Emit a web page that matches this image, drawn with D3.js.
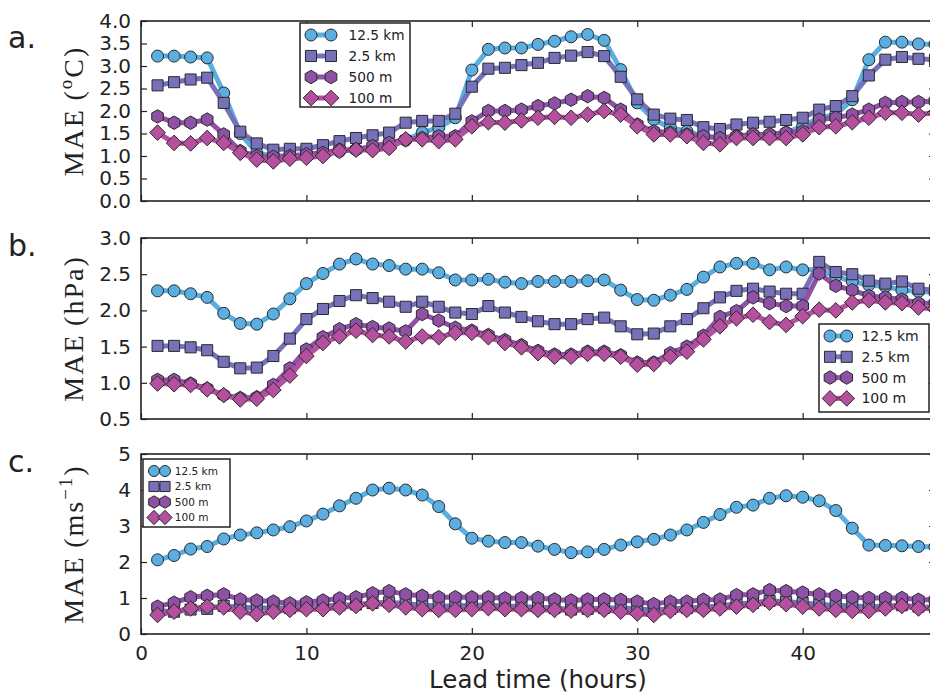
<!DOCTYPE html>
<html>
<head>
<meta charset="utf-8">
<script src="https://cdn.jsdelivr.net/npm/d3@7"></script>
<style>
  body { margin: 0; background: #fff; }
  svg { display: block; }
  .tick text { font-family: "DejaVu Sans", sans-serif; font-size: 20px; fill: #222; }
  .tick line { stroke: #222; stroke-width: 1.2; }
</style>
</head>
<body>
<svg id="chart"></svg>
<script>
// lead time (hours)
const hours = [1,2,3,4,5,6,7,8,9,10,11,12,13,14,15,16,17,18,19,20,21,22,23,24,
  25,26,27,28,29,30,31,32,33,34,35,36,37,38,39,40,41,42,43,44,45,46,47,48];

const seriesNames = ["12.5 km", "2.5 km", "500 m", "100 m"];

// a. temperature MAE (oC)
const temp125 = [3.22,3.22,3.20,3.18,2.40,1.50,1.07,1.00,1.00,1.00,1.05,1.10,1.15,1.15,1.20,1.35,1.52,1.63,1.85,2.91,3.37,3.40,3.40,3.48,3.55,3.65,3.70,3.57,2.92,2.18,1.81,1.63,1.55,1.44,1.40,1.44,1.48,1.48,1.52,1.66,1.85,1.92,2.25,3.14,3.53,3.53,3.49,3.48];
const temp25 = [2.57,2.64,2.70,2.74,2.18,1.54,1.28,1.14,1.16,1.16,1.24,1.33,1.40,1.46,1.52,1.74,1.78,1.78,1.94,2.54,2.94,2.96,3.02,3.07,3.18,3.23,3.31,3.22,2.76,2.26,1.92,1.83,1.80,1.64,1.60,1.70,1.74,1.76,1.80,1.85,2.03,2.11,2.33,2.79,3.14,3.20,3.16,3.14];
const temp500 = [1.88,1.74,1.74,1.81,1.48,1.11,1.00,0.98,1.00,1.04,1.07,1.14,1.14,1.22,1.29,1.37,1.40,1.44,1.44,1.77,2.00,2.00,2.03,2.11,2.17,2.25,2.33,2.29,2.03,1.70,1.55,1.52,1.48,1.44,1.40,1.44,1.48,1.48,1.52,1.55,1.81,1.85,1.92,2.03,2.18,2.20,2.20,2.22];
const temp100 = [1.52,1.29,1.28,1.40,1.29,1.07,0.92,0.88,0.94,0.96,1.00,1.11,1.14,1.13,1.18,1.37,1.37,1.33,1.37,1.66,1.75,1.74,1.79,1.85,1.87,1.85,1.92,2.00,1.92,1.66,1.48,1.48,1.44,1.29,1.26,1.40,1.40,1.40,1.40,1.48,1.64,1.66,1.75,1.85,1.96,1.96,1.92,1.96];

// b. pressure MAE (hPa)
const pres125 = [2.27,2.27,2.23,2.18,1.96,1.82,1.81,1.95,2.16,2.37,2.51,2.64,2.71,2.64,2.62,2.57,2.57,2.52,2.42,2.42,2.43,2.39,2.37,2.40,2.40,2.40,2.41,2.42,2.28,2.15,2.14,2.21,2.29,2.46,2.60,2.65,2.65,2.56,2.60,2.56,2.56,2.47,2.40,2.35,2.33,2.28,2.26,2.25];
const pres25 = [1.51,1.51,1.49,1.45,1.29,1.20,1.21,1.37,1.61,1.88,2.02,2.13,2.21,2.17,2.12,2.05,2.12,2.05,1.97,1.95,2.06,1.97,1.91,1.85,1.81,1.81,1.88,1.90,1.78,1.67,1.68,1.78,1.88,2.03,2.18,2.27,2.30,2.26,2.23,2.23,2.67,2.53,2.50,2.41,2.37,2.40,2.30,2.28];
const pres500 = [1.04,1.04,0.99,0.92,0.83,0.79,0.80,0.97,1.20,1.46,1.63,1.74,1.81,1.77,1.75,1.71,1.95,1.86,1.76,1.72,1.66,1.59,1.52,1.44,1.39,1.39,1.43,1.43,1.38,1.28,1.28,1.41,1.50,1.65,1.91,1.99,2.18,2.10,2.06,2.06,2.51,2.34,2.28,2.20,2.18,2.15,2.10,2.10];
const pres100 = [0.99,0.98,0.97,0.91,0.83,0.77,0.78,0.90,1.10,1.37,1.55,1.64,1.72,1.66,1.64,1.57,1.64,1.63,1.69,1.69,1.63,1.55,1.49,1.41,1.36,1.36,1.40,1.40,1.36,1.25,1.26,1.36,1.43,1.60,1.78,1.89,1.94,1.84,1.80,1.92,2.01,2.00,2.11,2.14,2.11,2.10,2.04,2.02];

// c. wind MAE (m/s)
const wind125 = [2.06,2.18,2.36,2.43,2.64,2.75,2.81,2.89,2.98,3.14,3.33,3.56,3.77,4.00,4.05,4.00,3.86,3.54,3.06,2.66,2.58,2.54,2.54,2.44,2.35,2.26,2.28,2.35,2.47,2.56,2.63,2.75,2.89,3.10,3.32,3.52,3.58,3.77,3.84,3.80,3.70,3.43,2.94,2.47,2.46,2.45,2.43,2.42];
const wind25 = [0.65,0.62,0.68,0.70,0.78,0.75,0.72,0.72,0.72,0.76,0.78,0.80,0.82,0.86,0.88,0.84,0.80,0.78,0.78,0.80,0.80,0.78,0.76,0.74,0.72,0.68,0.70,0.72,0.72,0.70,0.66,0.70,0.72,0.74,0.78,0.84,0.86,0.92,0.90,0.86,0.82,0.80,0.78,0.76,0.78,0.80,0.76,0.74];
const wind500 = [0.76,0.87,1.02,1.06,1.10,0.96,0.93,0.90,0.85,0.88,0.93,0.99,1.02,1.13,1.19,1.10,1.06,1.02,1.02,1.02,1.02,0.99,1.00,1.00,0.96,0.93,0.96,0.96,0.95,0.90,0.83,0.90,0.90,0.95,0.96,1.08,1.10,1.22,1.19,1.15,1.10,1.06,1.02,1.00,1.00,1.00,0.95,0.95];
const wind100 = [0.53,0.62,0.71,0.76,0.74,0.62,0.55,0.62,0.67,0.69,0.69,0.74,0.78,0.85,0.81,0.74,0.69,0.67,0.67,0.69,0.72,0.69,0.69,0.67,0.67,0.65,0.67,0.67,0.62,0.57,0.53,0.64,0.67,0.67,0.71,0.76,0.81,0.87,0.83,0.76,0.71,0.67,0.64,0.64,0.71,0.78,0.71,0.71];

const tempTicks = [0,0.5,1,1.5,2,2.5,3,3.5,4];
const presTicks = [0.5,1,1.5,2,2.5,3];
const windTicks = [0,1,2,3,4,5];
const xTicks = [0,10,20,30,40];

const colors = ["#5aaee0", "#7671b9", "#8e51a5", "#b5509f"];
const shapes = ["circle", "square", "hexagon", "diamond"];

const [w, h] = [930, 695];
const svg = d3.select("#chart").attr("width", w).attr("height", h);

const xScale = d3.scaleLinear().domain([0, 48]).range([141, 935]);

// marker paths
function markerPath(shape, s) {
  if (shape === "circle") return d3.symbol(d3.symbolCircle, Math.PI * s * s / 4)();
  if (shape === "square") return d3.symbol(d3.symbolSquare, s * s * 0.85)();
  if (shape === "diamond") {
    const r = s * 0.68;
    return `M0,${-r}L${r},0L0,${r}L${-r},0Z`;
  }
  const r = s * 0.56;
  const pts = d3.range(6).map(k => {
    const a = -Math.PI / 2 + k * Math.PI / 3;
    return [r * Math.cos(a), r * Math.sin(a)];
  });
  return "M" + pts.map(p => p.join(",")).join("L") + "Z";
}

const panels = [
  {label: "a.", labelY: 48, top: 21, bottom: 201, domain: [0, 4], ticks: tempTicks, fmt: d3.format(".1f"),
   data: [temp125, temp25, temp500, temp100], unit: ["MAE\u2009(", "o", "C)"],
   legend: {x: 300, y: 23, w: 110, h: 84, row: 21, gap: 20, font: 13.7, ms: 12}},
  {label: "b.", labelY: 256, top: 238, bottom: 419, domain: [0.5, 3], ticks: presTicks, fmt: d3.format(".1f"),
   data: [pres125, pres25, pres500, pres100], unit: ["MAE\u2009(hPa)"],
   legend: {x: 819, y: 324, w: 110, h: 88, row: 20.8, gap: 16.7, font: 14, ms: 12}},
  {label: "c.", labelY: 472, top: 454, bottom: 634, domain: [0, 5], ticks: windTicks, fmt: d3.format("d"),
   data: [wind125, wind25, wind500, wind100], unit: ["MAE\u2009(ms", "\u22121", ")"],
   legend: {x: 143, y: 459, w: 87, h: 68, row: 15.5, gap: 11, font: 10.5, ms: 11}, xLabels: true}
];

panels.forEach(p => {
  const yScale = d3.scaleLinear().domain(p.domain).range([p.bottom, p.top]);
  const g = svg.append("g");

  // series: line then markers, in plotting order
  p.data.forEach((vals, si) => {
    const pts = hours.map((hr, i) => [hr, vals[i]]);
    g.append("path")
      .datum(pts)
      .attr("fill", "none")
      .attr("stroke", colors[si])
      .attr("stroke-width", 5)
      .attr("stroke-linejoin", "round")
      .attr("d", d3.line().x(d => xScale(d[0])).y(d => yScale(d[1])));
    const size = shapes[si] === "diamond" ? 11.5 : 12;
    g.selectAll(null).data(pts).enter().append("path")
      .attr("transform", d => `translate(${xScale(d[0])},${yScale(d[1])})`)
      .attr("d", markerPath(shapes[si], size))
      .attr("fill", colors[si])
      .attr("stroke", "#2a2a2a")
      .attr("stroke-width", 1);
  });

  // axes, ticks pointing inward
  const left = d3.axisLeft(yScale).tickValues(p.ticks).tickFormat(p.fmt).tickSize(-6).tickPadding(10);
  const right = d3.axisRight(yScale).tickValues(p.ticks).tickFormat("").tickSize(-6);
  const top = d3.axisTop(xScale).tickValues(xTicks).tickFormat("").tickSize(-6);
  const bottom = d3.axisBottom(xScale).tickValues(xTicks).tickSize(-6).tickPadding(12)
    .tickFormat(p.xLabels ? d3.format("d") : "");
  svg.append("g").attr("transform", "translate(141,0)").call(left).call(a => a.select(".domain").remove());
  svg.append("g").attr("transform", "translate(935,0)").call(right).call(a => a.select(".domain").remove());
  svg.append("g").attr("transform", `translate(0,${p.top})`).call(top).call(a => a.select(".domain").remove());
  svg.append("g").attr("transform", `translate(0,${p.bottom})`).call(bottom).call(a => a.select(".domain").remove());
  svg.selectAll(".tick text").attr("font-family", null).attr("font-size", null);

  svg.append("rect")
    .attr("x", 141).attr("y", p.top).attr("width", 935 - 141).attr("height", p.bottom - p.top)
    .attr("fill", "none").attr("stroke", "#222").attr("stroke-width", 1.6);

  // legend
  const L = p.legend;
  const lg = svg.append("g");
  lg.append("rect").attr("x", L.x).attr("y", L.y).attr("width", L.w).attr("height", L.h)
    .attr("fill", "#fff").attr("stroke", "#222").attr("stroke-width", 1.5);
  seriesNames.forEach((name, si) => {
    const cy = L.y + 12 + si * L.row;
    const x1 = L.x + 11, x2 = x1 + L.gap;
    lg.append("line").attr("x1", x1).attr("x2", x2).attr("y1", cy).attr("y2", cy)
      .attr("stroke", colors[si]).attr("stroke-width", 5);
    [x1, x2].forEach(mx => lg.append("path")
      .attr("transform", `translate(${mx},${cy})`)
      .attr("d", markerPath(shapes[si], shapes[si] === "diamond" ? L.ms - 0.5 : L.ms))
      .attr("fill", colors[si]).attr("stroke", "#2a2a2a").attr("stroke-width", 1));
    lg.append("text").attr("x", x2 + L.gap * 0.85 + 0.5).attr("y", cy).attr("dy", "0.36em")
      .attr("font-family", "DejaVu Sans").attr("font-size", L.font).attr("fill", "#222")
      .text(name);
  });

  // panel letter
  svg.append("text").attr("x", 8).attr("y", p.labelY)
    .attr("font-family", "DejaVu Sans").attr("font-size", 30).attr("fill", "#222")
    .text(p.label);

  // y label
  const yl = svg.append("text")
    .attr("transform", `translate(83,${(p.top + p.bottom) / 2}) rotate(-90)`)
    .attr("text-anchor", "middle")
    .attr("font-family", "Liberation Serif, serif").attr("font-size", 28)
    .attr("letter-spacing", 2).attr("fill", "#222");
  p.unit.forEach((part, i) => {
    const t = yl.append("tspan").text(part);
    if (i === 1) t.attr("font-size", 19).attr("dy", -11);
    if (i === 2) t.attr("dy", 11);
  });
});

svg.append("text")
  .attr("x", 538).attr("y", 688)
  .attr("text-anchor", "middle")
  .attr("font-family", "DejaVu Sans").attr("font-size", 24.5).attr("fill", "#222")
  .text("Lead time (hours)");
</script>
</body>
</html>
